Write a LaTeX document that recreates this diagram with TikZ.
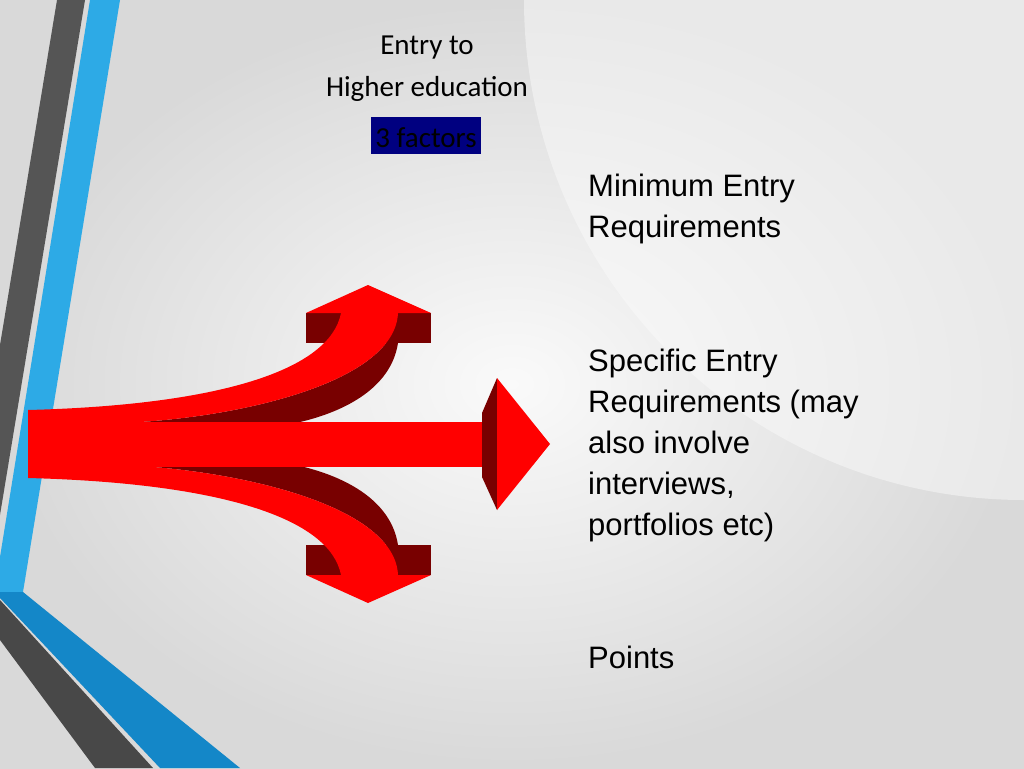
\documentclass[tikz,border=0pt]{standalone}
\usepackage{fontspec}
\setmainfont{Liberation Sans}
\newfontfamily\carl{Carlito}
\definecolor{arrred}{RGB}{255,0,0}
\definecolor{arrdark}{RGB}{120,0,0}
\definecolor{navybox}{RGB}{0,0,128}
\definecolor{stripeblue}{RGB}{45,170,230}
\definecolor{stripeblue2}{RGB}{20,135,200}
\definecolor{stripegray}{RGB}{85,85,85}
\begin{document}
\begin{tikzpicture}[x=1pt,y=-1pt,
  redf/.style={fill=arrred},
  dredf/.style={fill=arrdark},
  body/.style={font=\fontsize{31}{41}\selectfont, align=left, anchor=north west, inner sep=0pt}]
\useasboundingbox (0,0) rectangle (1024,768);
\shade[inner color=white!96!gray, outer color=black!15, shading=radial] (0,0) rectangle (1024,768);
\fill[white!96!gray, opacity=0.5] (1024,0) circle (500);
% stripes
\fill[stripegray] (57,0)--(85,0)--(0,515)--(0,345)--cycle;
\fill[stripegray!85!black] (0,600)--(153,768)--(95,768)--(0,640)--cycle;
\fill[stripeblue] (90,0)--(120,0)--(23,592)--(0,592)--(0,557)--cycle;
\fill[stripeblue2] (0,592)--(23,592)--(240,768)--(160,768)--(0,598)--cycle;
% arrow shadows
\fill[dredf] (398,313)--(398,343) .. controls (390,395) and (330,415) .. (300,422) -- (140,422) .. controls (250,415) and (395,380) .. (398,313)--cycle;
\fill[dredf] (398,575)--(398,545) .. controls (390,493) and (330,473) .. (300,466) -- (140,466) .. controls (250,473) and (395,508) .. (398,575)--cycle;
\fill[dredf] (306,313) rectangle (431,343);
\fill[dredf] (306,545) rectangle (431,575);
% branches
\fill[redf] (28,410) .. controls (220,405) and (330,370) .. (341,313) -- (398,313) .. controls (395,380) and (250,415) .. (140,422) -- (28,430) -- cycle;
\fill[redf] (28,478) .. controls (220,483) and (330,518) .. (341,575) -- (398,575) .. controls (395,508) and (250,473) .. (140,466) -- (28,458) -- cycle;
\fill[redf] (306,313)--(368,285)--(431,313)--cycle;
\fill[redf] (306,575)--(368,603)--(431,575)--cycle;
\fill[redf] (28,412) rectangle (120,476);
\fill[redf] (100,422) rectangle (498,467);
\fill[dredf] (482,413)--(497,378)--(497,510)--(482,477)--cycle;
\fill[redf] (497,378)--(550,444)--(497,510)--cycle;
% texts
\node[font=\carl\fontsize{29}{42}\selectfont, align=center, inner sep=0pt, anchor=north] (title) at (427,36) {Entry to\\Higher education};
\fill[navybox] (371,117) rectangle (481,154);
\node[font=\carl\fontsize{29}{35}\selectfont, inner sep=0pt, anchor=base] (fac) at (426,147) {3 factors};
\node[body] (min) at (588,174) {Minimum Entry\\Requirements};
\node[body] (spec) at (588,349) {Specific Entry\\Requirements (may\\also involve\\interviews,\\portfolios etc)};
\node[body] (pts) at (588,646) {Points};
\end{tikzpicture}
\end{document}
